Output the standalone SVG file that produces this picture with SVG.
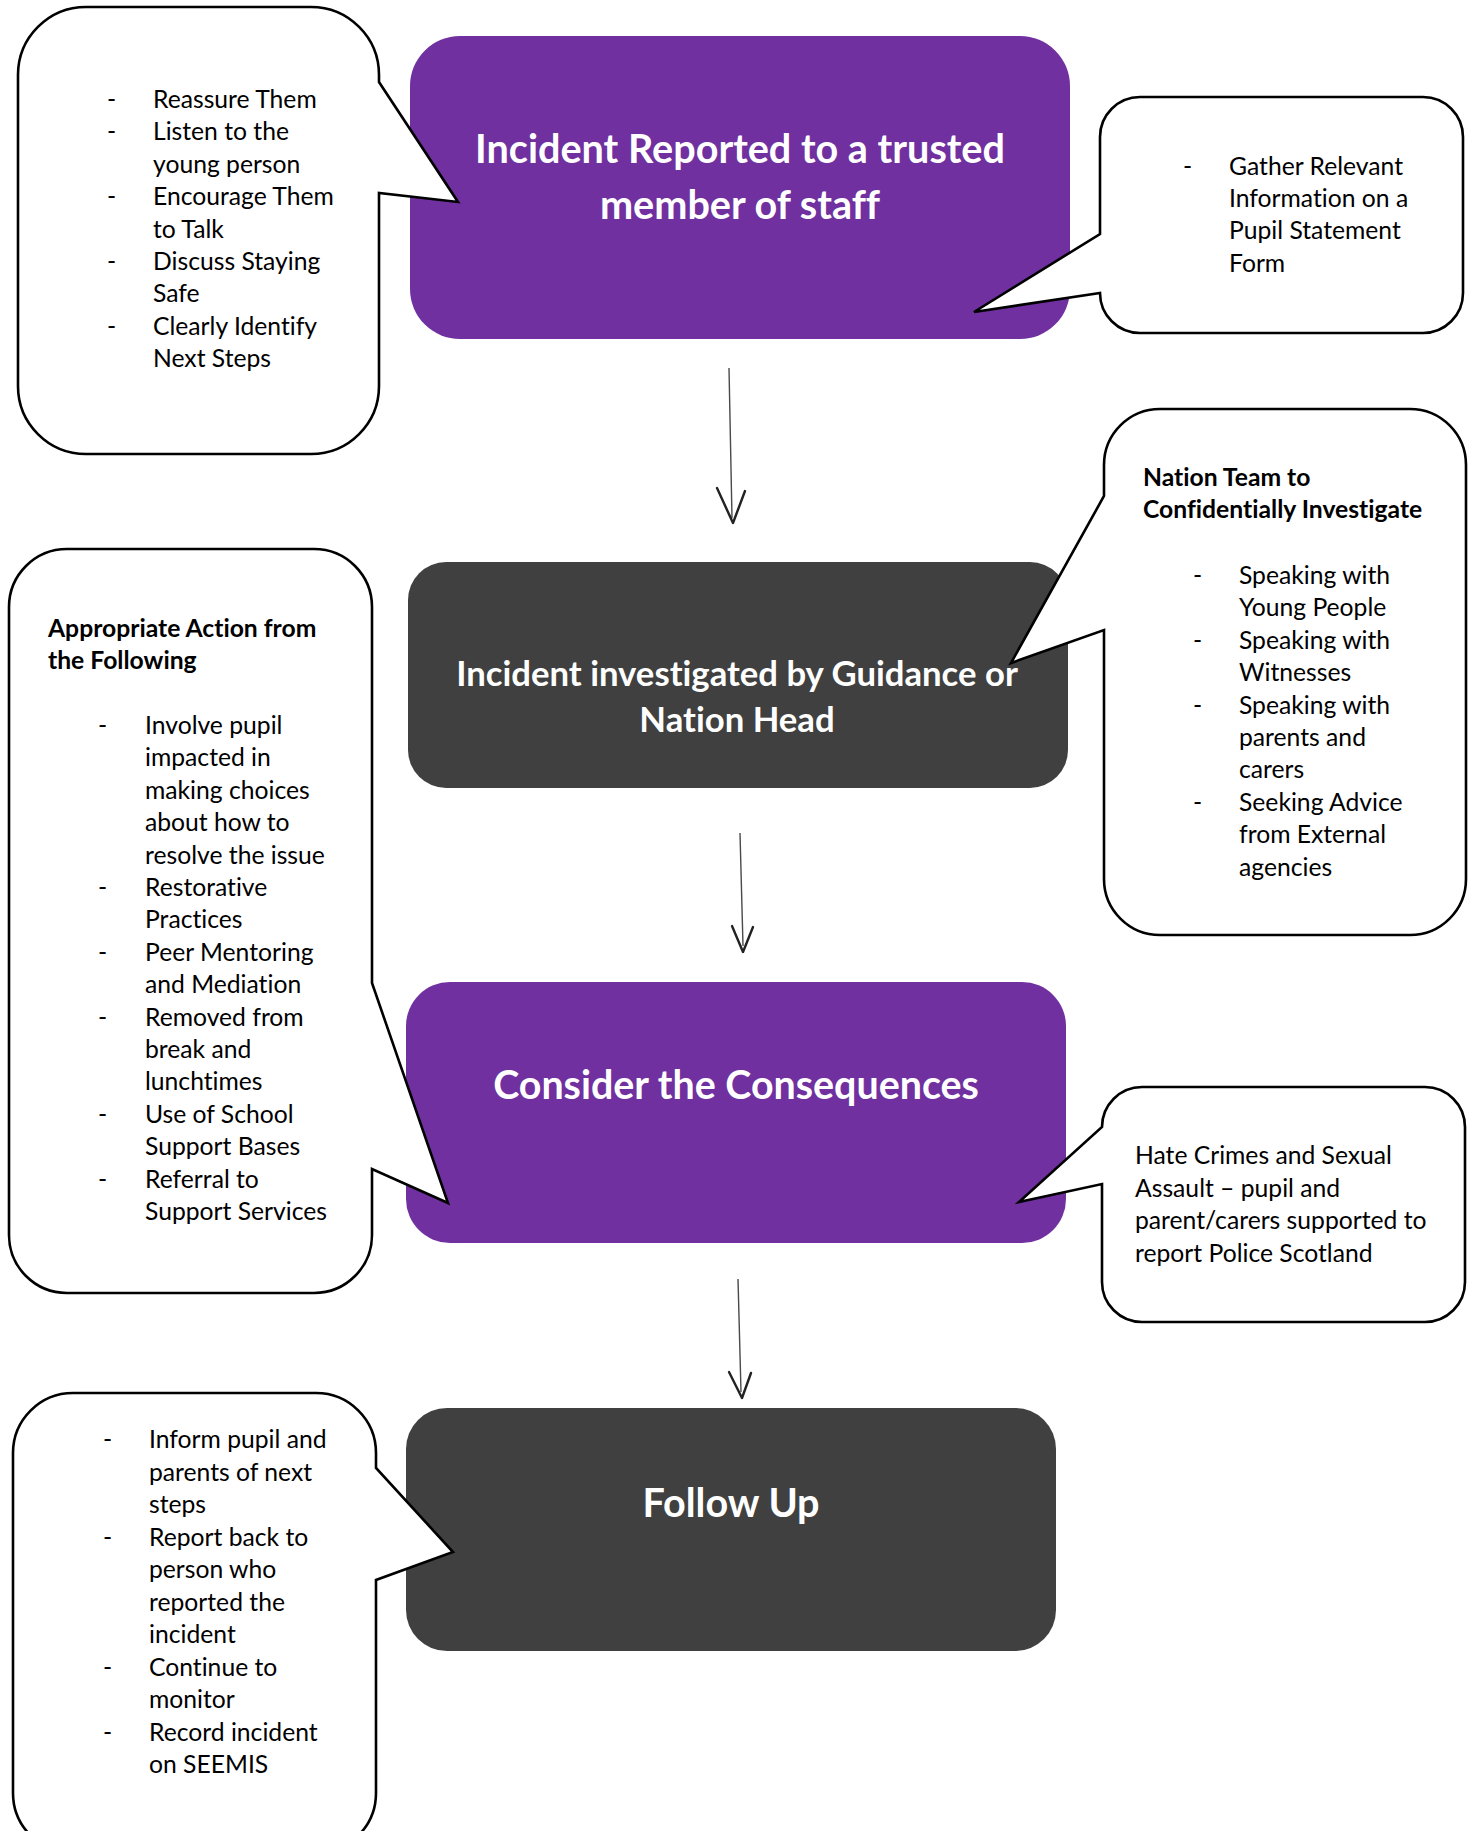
<svg xmlns="http://www.w3.org/2000/svg" width="1472" height="1831" viewBox="0 0 1472 1831">
<style>
.purple{fill:#7030A0}
.dark{fill:#404040}
.title{font-family:Lato,"Liberation Sans",sans-serif;font-weight:bold;fill:#ffffff;text-anchor:middle;font-variant-ligatures:none}
.callout{fill:#ffffff;stroke:#000000;stroke-width:2.6;stroke-linejoin:miter}
.t{font-family:Lato,"Liberation Sans",sans-serif;font-size:24.7px;fill:#000000;font-variant-ligatures:none}
.b{font-weight:bold}
.shaft{stroke:#4a4a4a;stroke-width:1.4;fill:none}
.head{stroke:#222222;stroke-width:2.4;fill:none;stroke-linecap:round;stroke-linejoin:round}
</style>
<rect width="1472" height="1831" fill="#ffffff"/>

<g id="node-reported">
<rect class="purple" x="410" y="36" width="660" height="303" rx="50" ry="50"/>
<text class="title" font-size="39.6" x="740" y="163">Incident Reported to a trusted</text>
<text class="title" font-size="39.6" x="740" y="219">member of staff</text>
</g>

<g id="node-investigated">
<rect class="dark" x="408" y="562" width="660" height="226" rx="38" ry="38"/>
<text class="title" font-size="34.7" x="737" y="686">Incident investigated by Guidance or</text>
<text class="title" font-size="34.7" x="737" y="732">Nation Head</text>
</g>

<g id="node-consequences">
<rect class="purple" x="406" y="982" width="660" height="261" rx="44" ry="44"/>
<text class="title" font-size="39.4" x="736" y="1099">Consider the Consequences</text>
</g>

<g id="node-followup">
<rect class="dark" x="406" y="1408" width="650" height="243" rx="41" ry="41"/>
<text class="title" font-size="39.6" x="731" y="1517">Follow Up</text>
</g>

<g id="connectors">
<line class="shaft" x1="729" y1="368" x2="732" y2="518"/>
<polyline class="head" points="717,488 733,523 745,491"/>
<line class="shaft" x1="740" y1="833" x2="743" y2="946"/>
<polyline class="head" points="732,926 743,952 753,927"/>
<line class="shaft" x1="738" y1="1279" x2="741" y2="1392"/>
<polyline class="head" points="729,1372 742,1398 751,1373"/>
</g>

<g id="callout-initial-steps">
<path class="callout" d="M 86,7 H 311 A 68 68 0 0 1 379,75 V 82 L 458,202 L 379,193 V 386 A 68 68 0 0 1 311,454 H 86 A 68 68 0 0 1 18,386 V 75 A 68 68 0 0 1 86,7 Z"/>
<g class="t">
<text x="107" y="108">-</text><text x="153" y="108">Reassure Them</text>
<text x="107" y="140">-</text><text x="153" y="140">Listen to the</text>
<text x="153" y="173">young person</text>
<text x="107" y="205">-</text><text x="153" y="205">Encourage Them</text>
<text x="153" y="238">to Talk</text>
<text x="107" y="270">-</text><text x="153" y="270">Discuss Staying</text>
<text x="153" y="302">Safe</text>
<text x="107" y="335">-</text><text x="153" y="335">Clearly Identify</text>
<text x="153" y="367">Next Steps</text>
</g>
</g>

<g id="callout-gather">
<path class="callout" d="M 1140,97 H 1423 A 40 40 0 0 1 1463,137 V 293 A 40 40 0 0 1 1423,333 H 1140 A 40 40 0 0 1 1100,293 L 974,312 L 1100,234 V 137 A 40 40 0 0 1 1140,97 Z"/>
<g class="t">
<text x="1183" y="175">-</text><text x="1229" y="175">Gather Relevant</text>
<text x="1229" y="207">Information on a</text>
<text x="1229" y="239">Pupil Statement</text>
<text x="1229" y="272">Form</text>
</g>
</g>

<g id="callout-nation-team">
<path class="callout" d="M 1160,409 H 1410 A 56 56 0 0 1 1466,465 V 879 A 56 56 0 0 1 1410,935 H 1160 A 56 56 0 0 1 1104,879 V 630 L 1011,663 L 1104,496 V 465 A 56 56 0 0 1 1160,409 Z"/>
<g class="t">
<text class="b" x="1143" y="486">Nation Team to</text>
<text class="b" x="1143" y="518">Confidentially Investigate</text>
<text x="1193" y="584">-</text><text x="1239" y="584">Speaking with</text>
<text x="1239" y="616">Young People</text>
<text x="1193" y="649">-</text><text x="1239" y="649">Speaking with</text>
<text x="1239" y="681">Witnesses</text>
<text x="1193" y="714">-</text><text x="1239" y="714">Speaking with</text>
<text x="1239" y="746">parents and</text>
<text x="1239" y="778">carers</text>
<text x="1193" y="811">-</text><text x="1239" y="811">Seeking Advice</text>
<text x="1239" y="843">from External</text>
<text x="1239" y="876">agencies</text>
</g>
</g>

<g id="callout-appropriate-action">
<path class="callout" d="M 67,549 H 314 A 58 58 0 0 1 372,607 V 983 L 448,1203 L 372,1169 V 1235 A 58 58 0 0 1 314,1293 H 67 A 58 58 0 0 1 9,1235 V 607 A 58 58 0 0 1 67,549 Z"/>
<g class="t">
<text class="b" x="48" y="637">Appropriate Action from</text>
<text class="b" x="48" y="669">the Following</text>
<text x="98" y="734">-</text><text x="145" y="734">Involve pupil</text>
<text x="145" y="766">impacted in</text>
<text x="145" y="799">making choices</text>
<text x="145" y="831">about how to</text>
<text x="145" y="864">resolve the issue</text>
<text x="98" y="896">-</text><text x="145" y="896">Restorative</text>
<text x="145" y="928">Practices</text>
<text x="98" y="961">-</text><text x="145" y="961">Peer Mentoring</text>
<text x="145" y="993">and Mediation</text>
<text x="98" y="1026">-</text><text x="145" y="1026">Removed from</text>
<text x="145" y="1058">break and</text>
<text x="145" y="1090">lunchtimes</text>
<text x="98" y="1123">-</text><text x="145" y="1123">Use of School</text>
<text x="145" y="1155">Support Bases</text>
<text x="98" y="1188">-</text><text x="145" y="1188">Referral to</text>
<text x="145" y="1220">Support Services</text>
</g>
</g>

<g id="callout-hate-crimes">
<path class="callout" d="M 1142,1087 H 1425 A 40 40 0 0 1 1465,1127 V 1282 A 40 40 0 0 1 1425,1322 H 1142 A 40 40 0 0 1 1102,1282 V 1184 L 1019,1202 L 1102,1127 A 40 40 0 0 1 1142,1087 Z"/>
<g class="t">
<text x="1135" y="1164">Hate Crimes and Sexual</text>
<text x="1135" y="1197">Assault – pupil and</text>
<text x="1135" y="1229">parent/carers supported to</text>
<text x="1135" y="1262">report Police Scotland</text>
</g>
</g>

<g id="callout-follow-up">
<path class="callout" d="M 73,1393 H 316 A 60 60 0 0 1 376,1453 V 1468 L 453,1552 L 376,1580 V 1793 A 60 60 0 0 1 316,1853 H 73 A 60 60 0 0 1 13,1793 V 1453 A 60 60 0 0 1 73,1393 Z"/>
<g class="t">
<text x="103" y="1448">-</text><text x="149" y="1448">Inform pupil and</text>
<text x="149" y="1481">parents of next</text>
<text x="149" y="1513">steps</text>
<text x="103" y="1546">-</text><text x="149" y="1546">Report back to</text>
<text x="149" y="1578">person who</text>
<text x="149" y="1611">reported the</text>
<text x="149" y="1643">incident</text>
<text x="103" y="1676">-</text><text x="149" y="1676">Continue to</text>
<text x="149" y="1708">monitor</text>
<text x="103" y="1741">-</text><text x="149" y="1741">Record incident</text>
<text x="149" y="1773">on SEEMIS</text>
</g>
</g>
</svg>
